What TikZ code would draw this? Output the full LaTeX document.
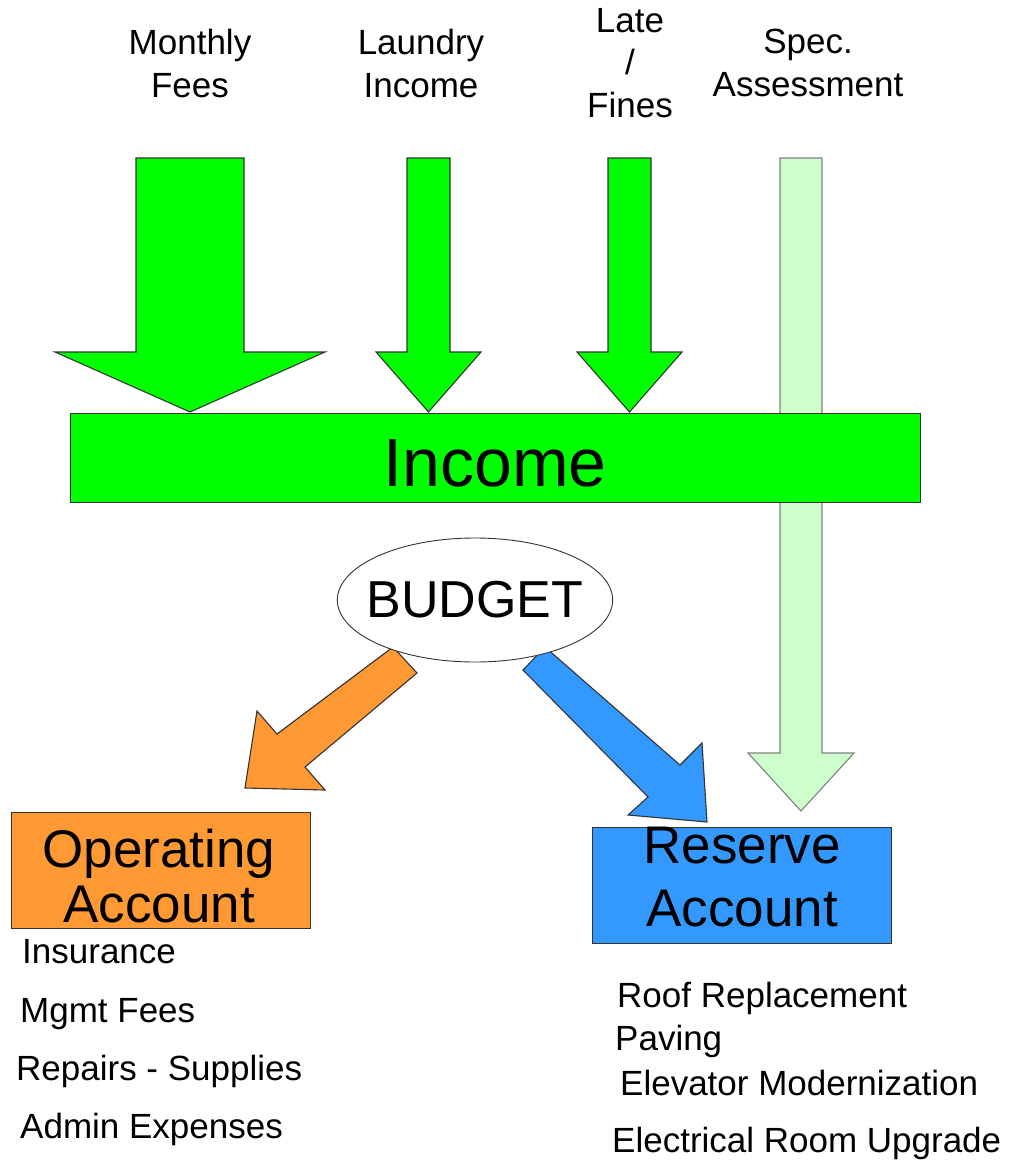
\documentclass[tikz,border=0pt]{standalone}
\usepackage{fontspec}
\setmainfont{Liberation Sans}
\usepackage{xcolor}
\usetikzlibrary{shapes,positioning}

\definecolor{incomegreen}{HTML}{00FF00}
\definecolor{palegreen}{HTML}{CCFFCC}
\definecolor{oporange}{HTML}{FF9933}
\definecolor{resblue}{HTML}{3399FF}
\definecolor{outlinegray}{HTML}{333333}

\begin{document}
\begin{tikzpicture}[x=1pt,y=-1pt,
  blockarrow/.style={draw=outlinegray,line width=1.1pt,line join=miter},
  srclabel/.style={align=center,inner sep=0pt,anchor=north,font=\fontsize{35}{43}\selectfont},
  accountbox/.style={draw=outlinegray,line width=1pt,minimum width=299pt,minimum height=116pt,inner sep=0pt},
  accounttext/.style={align=center,inner sep=0pt,anchor=base},
  itemtext/.style={anchor=base west,inner sep=0pt,font=\fontsize{35}{40}\selectfont}]
\useasboundingbox (0,0) rectangle (1013,1175);

% Income sources
\node[srclabel] (monthly) at (190,29) {Monthly\\Fees};
\node[srclabel] (laundry) at (421,29) {Laundry\\Income};
\node[srclabel,font=\fontsize{35}{42.5}\selectfont] (late) at (630,8) {Late\\/\\Fines};
\node[srclabel] (spec) at (808,29) {Spec.\\Assessment};

% Special assessment goes straight to the reserve (behind the income bar)
\draw[blockarrow,draw=gray,fill=palegreen] (780,158) -- (822,158) -- (822,753) -- (854,753)
  -- (801,811) -- (748,753) -- (780,753) -- cycle;

% Regular income arrows: centre/shaft half width/head half width
\foreach \cx/\hw/\ww in {190/54/135, 428.5/21.5/52.5, 629.5/21.5/52.5}
  \draw[blockarrow,fill=incomegreen] (\cx-\hw,158) -- (\cx+\hw,158) -- (\cx+\hw,352)
    -- (\cx+\ww,352) -- (\cx,412) -- (\cx-\ww,352) -- (\cx-\hw,352) -- cycle;

% Income bar
\node[draw=outlinegray,line width=1pt,fill=incomegreen,minimum width=850pt,minimum height=89pt,
  inner sep=0pt,text height=58pt,font=\fontsize{68}{70}\selectfont] (income) at (495,457.5) {Income};

% Budget split
\draw[blockarrow,fill=oporange] (417,673) -- (305,767) -- (325,790) -- (245,788)
  -- (257,711) -- (277,734) -- (393,647) -- cycle;
\draw[blockarrow,fill=resblue] (523,670) -- (648,797) -- (628,815) -- (707,822)
  -- (702,743) -- (680,765) -- (545,647) -- cycle;
\node[ellipse,draw=outlinegray,line width=0.9pt,fill=white,minimum width=274pt,minimum height=124pt,
  inner xsep=-11pt,inner ysep=0pt,font=\fontsize{52}{56}\selectfont] (budget) at (475,600) {BUDGET};

% Accounts (text anchored on the baseline of its last line)
\node[accountbox,fill=oporange] (operating) at (160.5,870) {};
\node[accounttext,font=\fontsize{53}{55}\selectfont] (optext) at (159,922) {Operating\\Account};
\node[accountbox,fill=resblue] (reserve) at (742,885) {};
\node[accounttext,font=\fontsize{53}{63}\selectfont] (restext) at (742,926) {Reserve\\Account};

% What each account pays for
\foreach \xpos/\ypos/\itemname [count=\i] in {22/963/Insurance, 20/1022/Mgmt Fees,
    16/1080/Repairs - Supplies, 20/1138/Admin Expenses}
  \node[itemtext] (opitem\i) at (\xpos,\ypos) {\itemname};
\foreach \xpos/\ypos/\itemname [count=\i] in {617/1007/Roof Replacement, 615/1050/Paving,
    620/1095/Elevator Modernization, 612/1152/Electrical Room Upgrade}
  \node[itemtext] (resitem\i) at (\xpos,\ypos) {\itemname};
\end{tikzpicture}
\end{document}
